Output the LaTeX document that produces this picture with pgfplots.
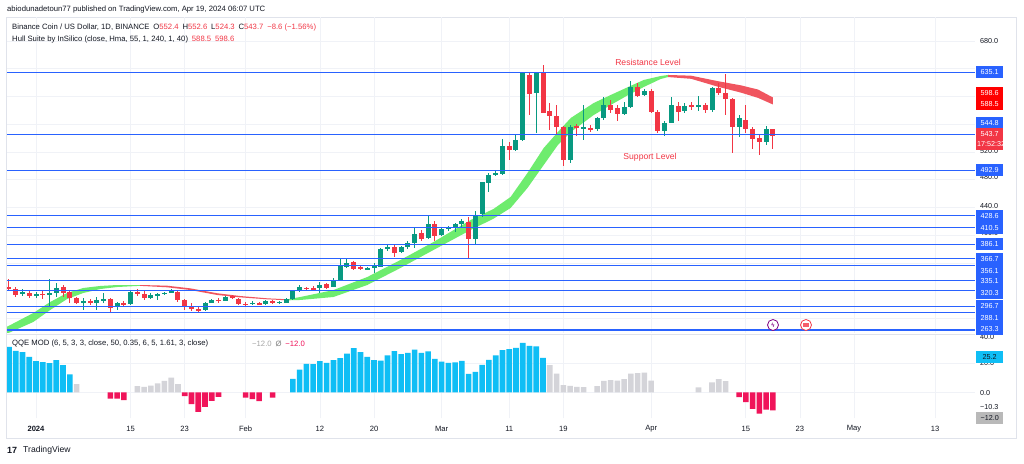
\documentclass[border=0pt]{standalone}
\usepackage{fontspec}
\setmainfont{Liberation Sans}
\usepackage{pgfplots}
\usepackage{pgfplotstable}
\pgfplotsset{compat=1.18}

\definecolor{tvblue}{HTML}{2962FF}
\definecolor{cgreen}{HTML}{089981}
\definecolor{cred}{HTML}{F23645}
\definecolor{hullg}{RGB}{110,236,110}
\definecolor{hullr}{RGB}{240,85,95}
\definecolor{qblue}{RGB}{15,190,245}
\definecolor{qgray}{RGB}{212,212,217}
\definecolor{qred}{RGB}{240,20,90}
\definecolor{gridc}{RGB}{240,242,247}
\definecolor{tvtext}{HTML}{131722}
\definecolor{frame}{RGB}{224,227,235}

% candles: d O H L C
\pgfplotstableread{
d O H L C
-2 314.7 321.9 312.3 318.1
0 313.3 317.6 308.9 314.7
2 314.2 336.3 296.9 316.1
3 316.1 331.5 311.3 323.3
7 303.2 308.9 292.1 305.1
9 301.7 311.3 292.1 306.5
10 305.6 316.1 302.7 308.5
12 297.9 304.1 292.1 302.7
14 300.3 320.0 299.3 318.5
17 308.9 316.1 307.5 313.7
18 313.3 317.1 306.5 314.7
19 315.2 318.5 313.3 317.1
20 317.6 321.9 316.1 319.5
25 292.1 304.1 291.1 302.7
26 302.7 307.5 301.7 306.5
28 305.6 312.3 304.6 311.3
32 301.2 305.6 299.8 302.7
34 300.3 306.5 299.3 305.1
36 302.2 305.6 301.2 304.1
37 302.7 308.9 301.7 307.5
38 308.0 320.9 306.5 319.5
39 320.0 328.2 318.5 324.8
42 323.4 332.9 317.1 328.2
44 325.8 337.8 324.8 335.4
45 335.4 366.6 334.4 357.0
46 354.6 365.2 352.2 360.4
49 350.7 354.6 349.8 352.2
50 352.2 359.4 346.0 357.0
51 354.6 381.0 353.6 379.6
52 379.6 385.8 377.7 383.4
54 375.7 384.4 373.8 383.4
55 382.5 392.1 379.6 389.2
56 389.2 410.8 381.0 401.7
58 395.4 429.1 394.0 415.6
60 400.2 411.3 398.8 408.4
61 408.4 413.2 406.5 411.3
62 410.8 417.1 404.1 415.6
63 416.1 422.8 410.8 420.0
65 394.0 434.9 387.3 429.1
66 430.0 477.1 426.7 476.2
67 474.7 490.1 461.8 486.8
68 487.7 494.0 485.3 490.1
69 488.2 538.2 486.8 529.1
71 522.8 544.5 521.9 537.2
72 537.2 635.8 536.3 633.4
74 604.5 635.8 546.9 633.4
79 508.4 558.9 503.6 556.5
81 553.6 587.7 537.2 555.5
83 552.6 570.9 550.7 568.5
84 568.5 599.7 566.1 587.7
87 574.7 592.5 573.3 584.3
88 584.3 622.8 582.9 614.1
90 602.1 610.3 600.7 608.4
93 550.7 565.1 543.0 562.2
94 562.2 599.7 561.3 587.7
96 579.0 591.1 576.6 586.3
98 584.3 600.7 579.5 587.7
100 580.5 614.1 578.1 611.7
104 555.5 573.3 541.1 568.5
108 534.8 557.4 530.0 552.6
}\greenc

\pgfplotstableread{
d O H L C
-4 324.8 336.8 320.9 321.9
-3 321.9 325.8 310.4 313.7
-1 317.1 320.0 309.9 312.3
1 315.2 319.5 307.5 314.2
4 325.8 328.2 311.3 316.1
5 317.6 320.0 301.7 308.9
6 308.9 311.3 300.8 301.7
8 305.6 307.5 299.3 301.7
11 307.5 308.9 289.7 294.5
13 302.7 305.6 297.9 299.3
15 318.5 321.9 312.3 315.2
16 315.2 320.9 306.5 308.9
21 318.5 319.5 304.1 306.5
22 306.5 307.5 292.1 297.9
23 297.9 301.7 291.1 293.1
24 293.6 296.9 288.3 292.1
27 306.5 309.9 302.7 305.6
29 312.3 313.7 307.5 308.9
30 308.0 308.9 299.3 300.3
31 301.2 304.1 297.9 300.3
33 301.7 304.1 299.3 300.8
35 305.1 306.5 300.3 301.7
40 323.8 325.8 320.9 322.9
41 324.3 326.7 320.0 320.9
43 329.1 330.6 321.9 324.3
47 361.3 362.8 349.8 351.7
48 354.6 356.5 349.8 350.7
53 383.4 385.8 368.0 374.8
57 403.6 407.5 392.1 394.0
59 416.1 420.9 392.1 398.8
64 419.5 426.7 365.6 394.0
70 529.1 534.8 508.4 522.8
73 631.0 633.4 573.3 603.1
75 634.3 645.4 575.7 576.6
76 579.0 591.1 551.7 571.8
77 571.8 587.7 544.4 555.5
78 555.5 557.4 499.8 508.4
80 557.4 560.3 543.0 554.1
82 555.0 558.9 549.3 551.7
85 587.7 594.9 575.7 580.5
86 582.9 587.7 565.1 574.7
89 614.1 618.9 598.8 600.7
91 608.4 610.3 576.6 578.1
92 578.1 580.5 547.8 550.7
95 586.3 592.5 565.1 578.1
97 587.7 592.5 580.5 584.3
99 587.7 591.1 576.6 580.5
101 611.7 618.9 602.1 604.5
102 605.5 632.4 573.3 595.9
103 595.9 597.3 519.0 555.5
105 566.1 587.7 546.9 552.6
106 553.1 555.5 523.8 538.2
107 539.6 544.5 515.6 534.8
109 552.4 552.6 524.3 543.7
}\redc

% Hull band outlines (upper edge forward, lower edge back): d p
\pgfplotstableread{
d p
-4.29 268
-0.4 287.8
2.1 303.7
4.6 316.7
7 323.9
9.5 326.8
12 328.2
15.4 328.2
15.4 327.0
12 325.3
9.5 322.4
7 316.7
4.6 308.0
2.1 292.2
-0.4 274.9
-4.29 258
}\bandGa
\pgfplotstableread{
d p
15.4 328.2
19.4 327.2
22.8 323.4
26.8 316.3
30.2 312.3
34.2 309.0
37.2 307.6
37.2 306.1
34.2 307.6
30.2 310.4
26.8 313.8
22.8 321.0
19.4 324.9
15.4 327.0
}\bandRa
\pgfplotstableread{
d p
37.2 307.6
39.1 310.9
44 320.9
49 339.7
53.9 364.2
58.8 390.2
64.3 421.9
67.7 438
70.2 455.1
72.7 489.7
75.1 525.7
77.2 548.8
79.1 569.0
82.5 590.6
85.0 602.1
87.6 613.7
89.9 623.8
92.4 629.5
93.5 631
93.5 628
92.4 625.2
89.9 613.7
87.6 602.1
85.0 587.7
82.5 573.3
79.1 548.8
77.2 530.1
75.1 501.2
72.7 468.1
70.2 439.2
67.7 424
64.3 407.5
58.8 378.7
53.9 352.7
49 328.2
44 310.9
39.1 306.6
37.2 306.1
}\bandGb
\pgfplotstableread{
d p
93.5 631
96.9 630
100.9 622
104.3 616
106.8 610
109 598.6
109 588.5
106.8 598
104.3 605.5
100.9 614
96.9 625.5
93.5 628
}\bandRb

% QQE histogram
\pgfplotstableread{
d v
-4 30.9
-3 28.1
-2 27.3
-1 24.1
0 21.2
1 20.5
2 19.8
3 21.8
4 18.5
5 12.2
38 9.2
39 15.5
40 19.4
41 19.1
42 21.2
43 20.0
44 21.8
45 23.2
46 26.3
47 30.0
48 27.3
49 24.1
50 21.8
51 21.6
52 25.0
53 27.9
54 25.9
55 26.8
56 29.0
57 26.8
58 27.7
59 22.7
60 20.9
61 20.0
62 20.3
63 21.4
64 12.6
65 14.0
66 18.7
67 22.1
68 25.0
69 28.6
70 29.3
71 30.2
72 33.6
73 31.5
74 31.1
75 23.4
}\qqeblue
\pgfplotstableread{
d v
6 5.6
15 4.3
16 3.8
17 4.7
18 6.1
19 7.9
20 10.1
21 5.6
76 18.5
77 12.8
78 5.0
79 4.5
80 3.8
81 3.6
83 4.3
84 7.9
85 8.3
86 8.1
87 9.0
88 12.8
89 13.1
90 13.5
91 8.1
98 3.4
100 6.8
101 9.0
102 7.7
}\qqegray
\pgfplotstableread{
d v
11 -4.1
12 -4.1
13 -5.2
22 -2.5
23 -7.9
24 -13.1
25 -9.7
26 -5.6
27 -2.9
31 -3.4
32 -4.5
33 -5.9
35 -3.4
104 -3.2
105 -6.5
106 -11.0
107 -14.2
108 -11.5
109 -12.0
}\qqered

\begin{document}
\begin{tikzpicture}[x=1pt,y=1pt]
\fill[white] (0,0) rectangle (1024,463);
\draw[frame, line width=0.8pt] (6.5,446) rectangle (1016,25);

% ---------- main price panel ----------
\begin{axis}[at={(7pt,130pt)}, anchor=south west, scale only axis,
  width=968pt, height=316pt,
  xmin=-4.29, xmax=138.9, ymin=259.0, ymax=714.6,
  axis line style={draw=none}, tick style={draw=none},
  xtick={0,14,22,31,42,50,60,70,78,91,105,113,121,133}, xticklabels={},
  ytick={280,320,...,680}, yticklabels={},
  grid=major, grid style={gridc, line width=0.7pt}, clip=true]

% Hull band
\addplot[fill=hullg, draw=none, forget plot] table[x=d,y=p]{\bandGa};
\addplot[fill=hullr, draw=none, forget plot] table[x=d,y=p]{\bandRa};
\addplot[fill=hullg, draw=none, forget plot] table[x=d,y=p]{\bandGb};
\addplot[fill=hullr, draw=none, forget plot] table[x=d,y=p]{\bandRb};

% wicks
\addplot[draw=none, mark=none, forget plot,
  error bars/.cd, y dir=both, y explicit, error mark=none,
  error bar style={line width=1pt, draw=cgreen}]
  table[x=d, y expr={(\thisrow{H}+\thisrow{L})/2}, y error expr={(\thisrow{H}-\thisrow{L})/2}]{\greenc};
\addplot[draw=none, mark=none, forget plot,
  error bars/.cd, y dir=both, y explicit, error mark=none,
  error bar style={line width=1pt, draw=cred}]
  table[x=d, y expr={(\thisrow{H}+\thisrow{L})/2}, y error expr={(\thisrow{H}-\thisrow{L})/2}]{\redc};
% bodies
\addplot[draw=none, mark=none, forget plot,
  error bars/.cd, y dir=both, y explicit, error mark=none,
  error bar style={line width=5pt, draw=cgreen}]
  table[x=d, y expr={(\thisrow{O}+\thisrow{C})/2}, y error expr={max(abs(\thisrow{C}-\thisrow{O})/2,0.7)}]{\greenc};
\addplot[draw=none, mark=none, forget plot,
  error bars/.cd, y dir=both, y explicit, error mark=none,
  error bar style={line width=5pt, draw=cred}]
  table[x=d, y expr={(\thisrow{O}+\thisrow{C})/2}, y error expr={max(abs(\thisrow{C}-\thisrow{O})/2,0.7)}]{\redc};

% horizontal levels
\pgfplotsinvokeforeach{635.1,544.8,492.9,428.6,410.5,386.1,366.7,356.1,335.1,320.3,296.7,288.1,263.3}{
  \addplot[tvblue, line width=1.1pt, forget plot] coordinates {(-4.29,#1) (138.9,#1)};
}
\end{axis}

% ---------- QQE panel ----------
\begin{axis}[at={(7pt,45pt)}, anchor=south west, scale only axis,
  width=968pt, height=83pt,
  xmin=-4.29, xmax=138.9, ymin=-17.23, ymax=38.85,
  axis line style={draw=none}, tick style={draw=none},
  xtick={0,14,22,31,42,50,60,70,78,91,105,113,121,133}, xticklabels={},
  ytick={0,20}, yticklabels={},
  grid=major, grid style={gridc, line width=0.7pt}, clip=true]
\addplot[ybar, bar width=5.6pt, bar shift=0pt, fill=qblue, draw=none, forget plot] table[x=d,y=v]{\qqeblue};
\addplot[ybar, bar width=5.6pt, bar shift=0pt, fill=qgray, draw=none, forget plot] table[x=d,y=v]{\qqegray};
\addplot[ybar, bar width=5.6pt, bar shift=0pt, fill=qred, draw=none, forget plot] table[x=d,y=v]{\qqered};
\end{axis}

\draw[frame, line width=0.8pt] (6.5,129) -- (975,129);

% ---------- header texts ----------
\begin{scope}[every node/.style={anchor=west, inner sep=0pt, text=tvtext, font=\fontsize{7.7}{9}\selectfont}]
\node at (7,453) {abiodunadetoun77 published on TradingView.com, Apr 19, 2024 06:07 UTC};
\node at (12,435) {Binance Coin / US Dollar, 1D, BINANCE\enspace O\textcolor{cred}{552.4}\enspace H\textcolor{cred}{552.6}\enspace L\textcolor{cred}{524.3}\enspace C\textcolor{cred}{543.7}\enspace\textcolor{cred}{−8.6 (−1.56\%)}};
\node at (12,423.5) {Hull Suite by InSilico (close, Hma, 55, 1, 240, 1, 40)\enspace\textcolor{cred}{588.5}\enspace\textcolor{cred}{598.6}};
\node at (12,119) {QQE MOD (6, 5, 3, 3, close, 50, 0.35, 6, 5, 1.61, 3, close)};
\node at (252,119) {\textcolor{gray!70}{−12.0}\enspace\textcolor{gray}{Ø}\enspace\textcolor{qred}{−12.0}};
\end{scope}

% annotations
\node[text=cred, font=\fontsize{8.6}{10}\selectfont] at (648,401) {Resistance Level};
\node[text=cred, font=\fontsize{8.6}{10}\selectfont] at (650,305.3) {Support Level};

% date labels
\begin{scope}[every node/.style={text=tvtext, font=\fontsize{7.6}{9}\selectfont, inner sep=0pt}]
\node at (36,34) {\textbf{2024}};
\node at (130.6,34) {15};
\node at (184.7,34) {23};
\node at (245.6,34) {Feb};
\node at (319.9,34) {12};
\node at (374,34) {20};
\node at (441.6,34) {Mar};
\node at (509.2,34) {11};
\node at (563.3,34) {19};
\node at (651.2,34) {Apr};
\node at (745.8,34) {15};
\node at (799.9,34) {23};
\node at (854,34) {May};
\node at (935.1,34) {13};
\end{scope}

% price scale plain labels
\begin{scope}[every node/.style={anchor=west, text=tvtext, font=\fontsize{7.2}{9}\selectfont, inner sep=0pt}]
\node at (980,422) {680.0};
\node at (980,312) {520.0};
\node at (980,285.7) {480.0};
\node at (980,257) {440.0};
\node at (980,230) {400.0};
\node at (980,126.3) {40.0};
\node at (980,99.7) {20.0};
\node at (980,70.3) {0.0};
\node at (980,55.7) {−10.3};
\end{scope}

% price scale boxes
\begin{scope}[every node/.style={anchor=west, text=white, font=\fontsize{7.2}{9}\selectfont, inner sep=1pt, minimum width=27pt, minimum height=12pt}]
\node[fill=tvblue] at (976,391.3) {635.1};
\fill[red] (976,376) rectangle (1003,353);
\node[fill=red] at (976,370) {598.6};
\node[fill=red] at (976,359) {588.5};
\node[fill=tvblue] at (976,339.5) {544.8};
\fill[cred] (976,334) rectangle (1003,313);
\node[fill=cred] at (976,329) {543.7};
\node at (976,318.5) {17:52:32};
\node[fill=tvblue] at (976,293) {492.9};
\node[fill=tvblue] at (976,247.3) {428.6};
\node[fill=tvblue] at (976,234.7) {410.5};
\node[fill=tvblue] at (976,218.7) {386.1};
\node[fill=tvblue] at (976,204) {366.7};
\node[fill=tvblue] at (976,192.3) {356.1};
\node[fill=tvblue] at (976,181.5) {335.1};
\node[fill=tvblue] at (976,170.3) {320.3};
\node[fill=tvblue] at (976,157) {296.7};
\node[fill=tvblue] at (976,145) {288.1};
\node[fill=tvblue] at (976,133.7) {263.3};
\node[fill=qblue, text=tvtext] at (976,105.7) {25.2};
\node[fill=gray!55, text=tvtext] at (976,44.7) {−12.0};
\end{scope}

% small icons
\draw[violet, line width=0.8pt, fill=white] (773,138) circle (5.5);
\node[violet, font=\fontsize{6}{6}\selectfont\bfseries, inner sep=0pt] at (773,138) {ϟ};
\draw[cred, line width=0.8pt, fill=white] (806,138) circle (5.5);
\fill[cred!80] (803,136) rectangle (809,140);

% footer
\node[anchor=west, text=tvtext, font=\fontsize{9}{10}\bfseries\selectfont, inner sep=0pt] at (7,13) {17};
\node[anchor=west, text=tvtext, font=\fontsize{8.6}{10}\selectfont, inner sep=0pt] at (23,13) {TradingView};

\pgfresetboundingbox
\path[use as bounding box] (0,0) rectangle (1024,463);
\end{tikzpicture}
\end{document}
